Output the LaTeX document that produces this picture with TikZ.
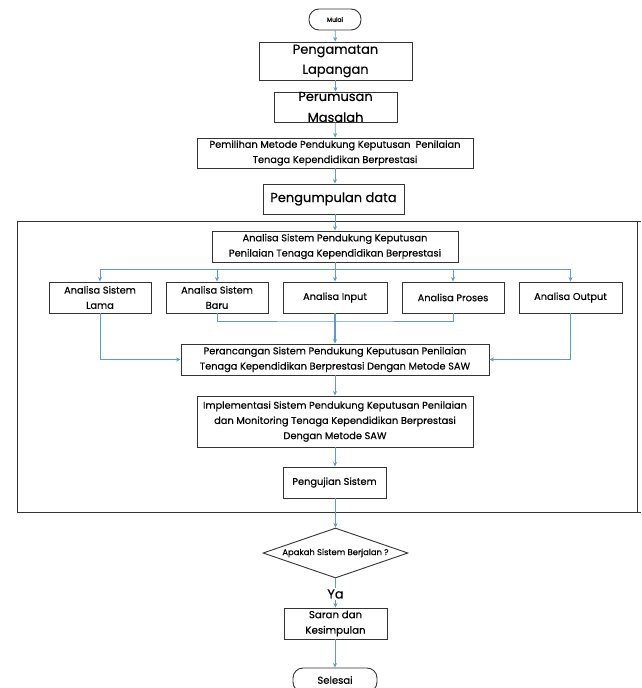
\documentclass[tikz,border=0pt]{standalone}
\usepackage{fontspec}
\setmainfont{Poppins}[FakeBold=0.35]
\usetikzlibrary{shapes.geometric,arrows.meta}
\definecolor{arr}{HTML}{5B9BD5}
\definecolor{edge}{HTML}{333333}
\tikzset{
  box/.style={draw=edge, line width=0.9pt, fill=white, inner sep=1pt, align=center, font=\fontsize{9.8}{15.2}\selectfont},
  bigtext/.style={font=\fontsize{13}{20}\selectfont},
  term/.style={draw=edge, line width=0.9pt, fill=white, rounded corners=10pt, inner sep=0pt},
  conn/.style={draw=arr, line width=0.8pt},
  arrow/.style={conn, -{Stealth[length=4.5pt,width=4pt]}}
}
\begin{document}
\begin{tikzpicture}[x=1pt,y=-1pt]
\useasboundingbox (0,0) rectangle (641,688);
% frame
\draw[draw=edge, line width=0.8pt] (17,221) rectangle (637,512);
\draw[draw=edge, line width=0.8pt] (637,221) -- (641,221) (637,512) -- (641,512);
% nodes
\node[term, minimum width=52pt, minimum height=21pt, font=\fontsize{6}{7}\selectfont] (mulai) at (335,19.5) {Mulai};
\node[box, bigtext, minimum width=153pt, minimum height=38pt] (peng) at (335.5,61) {Pengamatan\\Lapangan};
\node[box, minimum width=123pt, minimum height=30pt,
  label={[align=center, font=\fontsize{13}{21}\selectfont]center:Perumusan\\Masalah}] (rumus) at (335.5,107) {};
\node[box, minimum width=276pt, minimum height=30pt] (pilih) at (335,153) {Pemilihan Metode Pendukung Keputusan\ \ Penilaian\\Tenaga Kependidikan Berprestasi};
\node[box, bigtext, minimum width=141pt, minimum height=30pt] (kumpul) at (333.5,199) {Pengumpulan data};
\node[box, minimum width=246pt, minimum height=31pt] (asp) at (335,246.5) {Analisa Sistem Pendukung Keputusan\\Penilaian Tenaga Kependidikan Berprestasi};
\node[box, minimum width=102pt, minimum height=31pt] (lama) at (100,297.5) {Analisa Sistem\\Lama};
\node[box, minimum width=102pt, minimum height=31pt] (baru) at (217,297.5) {Analisa Sistem\\Baru};
\node[box, minimum width=104pt, minimum height=31pt] (input) at (335,297.5) {Analisa Input};
\node[box, minimum width=102pt, minimum height=31pt] (proses) at (453,297.5) {Analisa Proses};
\node[box, minimum width=103pt, minimum height=31pt] (output) at (570.5,297.5) {Analisa Output};
\node[box, minimum width=308pt, minimum height=31pt] (ranc) at (335,359.5) {Perancangan Sistem Pendukung Keputusan Penilaian\\Tenaga Kependidikan Berprestasi Dengan Metode SAW};
\node[box, minimum width=276pt, minimum height=51pt] (impl) at (335,421.5) {Implementasi Sistem Pendukung Keputusan Penilaian\\dan Monitoring Tenaga Kependidikan Berprestasi\\Dengan Metode SAW};
\node[box, minimum width=103pt, minimum height=31pt] (uji) at (334.5,482.5) {Pengujian Sistem};
\node[diamond, draw=edge, line width=0.9pt, fill=white, aspect=2.9, minimum width=145pt, minimum height=50pt, inner sep=0pt, font=\fontsize{8.4}{10}\selectfont] (dec) at (335.5,553) {Apakah Sistem Berjalan ?};
\node[font=\fontsize{13}{15}\selectfont, inner sep=1pt] (ya) at (335.5,594) {Ya};
\node[box, minimum width=103pt, minimum height=31pt, font=\fontsize{10.2}{15.5}\selectfont] (saran) at (335.5,623.5) {Saran dan\\Kesimpulan};
\node[term, minimum width=84pt, minimum height=24pt, font=\fontsize{10}{12}\selectfont] (selesai) at (335,680) {Selesai};
% branch coordinates
\coordinate (br) at (335,269);
\coordinate (mg) at (335,321);
% connectors
\draw[arrow] (mulai) -- (peng);
\draw[arrow] (peng) -- (rumus);
\draw[arrow] (rumus) -- (pilih);
\draw[arrow] (pilih.south) -- (pilih.south |- kumpul.north);
\draw[arrow] (kumpul.south -| asp.north) -- (asp.north);
\draw[conn] (asp.south) -- (br);
\draw[arrow] (br) -| (lama.north);
\draw[arrow] (br) -| (baru.north);
\draw[arrow] (br) -- (input.north);
\draw[arrow] (br) -| (proses.north);
\draw[arrow] (br) -| (output.north);
\draw[conn] (baru.south) |- (mg) -| (proses.south);
\draw[arrow, line width=1.2pt] (input.south) -- (ranc.north);
\draw[arrow] (lama.south) |- (ranc.west);
\draw[arrow] (output.south) |- (ranc.east);
\draw[arrow] (ranc) -- (impl);
\draw[arrow] (impl.south) -- (impl.south |- uji.north);
\draw[arrow] (uji.south -| dec.north) -- (dec.north);
\draw[conn] (dec.south) -- (ya.north);
\draw[arrow] (ya.south) -- (saran.north);
\draw[arrow] (saran.south -| selesai.north) -- (selesai.north);
\end{tikzpicture}
\end{document}
